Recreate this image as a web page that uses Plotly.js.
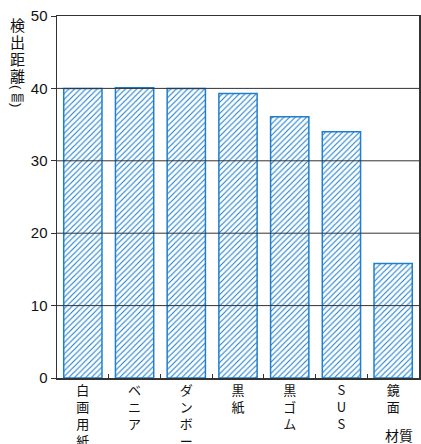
<!DOCTYPE html>
<html>
<head>
<meta charset="utf-8">
<script src="https://cdn.plot.ly/plotly-3.0.1.min.js"></script>
<style>html,body{margin:0;padding:0;background:#fff;}#chart{width:421px;height:444px;}</style>
</head>
<body>
<div id="chart"></div>
<script>
const categories = ["白画用紙", "ベニア", "ダンボール", "黒紙", "黒ゴム", "SUS", "鏡面"];
const distances = [40.0, 40.1, 40.0, 39.3, 36.1, 34.0, 15.8];
const yTicks = [0, 10, 20, 30, 40, 50];
const yTitleMain = "検出距離";
const yTitleUnit = ["(", "㎜", ")"];
const xTitle = "材質";

const verticalText = s => Array.from(s).join("<br>");
const blue = "#1f7fcf";

const trace = {
  type: "bar",
  x: categories,
  y: distances,
  width: 0.74,
  marker: {
    color: "#ffffff",
    line: {color: blue, width: 1.5},
    pattern: {shape: "/", fgcolor: blue, bgcolor: "#ffffff", size: 4, solidity: 0.28}
  },
  hoverinfo: "none"
};

const gridShapes = yTicks.filter(v => v > 0 && v < 50).map(v => ({
  type: "line", xref: "paper", x0: 0, x1: 1, yref: "y", y0: v, y1: v,
  line: {color: "#333333", width: 1}, layer: "above"
}));

const titleFont = {family: "Noto Sans CJK JP", size: 15, color: "#111111"};
const yTitleAnnotations = [];
Array.from(yTitleMain).forEach((ch, i) => {
  yTitleAnnotations.push({
    text: ch, xref: "paper", yref: "paper", x: 0, y: 1,
    xshift: -40, yshift: -8 - i * 17.3,
    xanchor: "center", yanchor: "middle", showarrow: false, font: titleFont
  });
});
const unitShifts = [-71, -79.5, -89];
yTitleUnit.forEach((ch, i) => {
  yTitleAnnotations.push({
    text: ch, xref: "paper", yref: "paper", x: 0, y: 1,
    xshift: -40, yshift: unitShifts[i],
    textangle: i === 1 ? 0 : 90,
    xanchor: "center", yanchor: "middle", showarrow: false,
    font: i === 1
      ? {family: "Noto Sans CJK JP", size: 13, color: "#111111"}
      : {family: "Liberation Sans, Arial, sans-serif", size: 13, color: "#111111"}
  });
});

const layout = {
  width: 421, height: 444,
  margin: {l: 57, r: 2, t: 16, b: 66},
  paper_bgcolor: "#ffffff", plot_bgcolor: "#ffffff",
  showlegend: false,
  font: {family: "Liberation Sans, Arial, sans-serif", color: "#111111"},
  xaxis: {
    type: "category",
    tickmode: "array",
    tickvals: categories,
    ticktext: categories.map(verticalText),
    tickangle: 0,
    tickson: "boundaries",
    ticks: "inside", ticklen: 4, tickcolor: "#333333",
    tickfont: {family: "Noto Sans CJK JP", size: 13, color: "#111111"},
    showgrid: false, zeroline: false,
    showline: true, linecolor: "#333333", linewidth: 1.5, mirror: true,
    range: [-0.5, 6.5]
  },
  yaxis: {
    range: [0, 50],
    tickmode: "array", tickvals: yTicks,
    ticks: "outside", ticklen: 5, tickcolor: "#333333",
    tickfont: {family: "Liberation Sans, Arial, sans-serif", size: 15, color: "#111111"},
    showgrid: false, zeroline: false,
    showline: true, linecolor: "#333333", linewidth: 1.5, mirror: true
  },
  shapes: gridShapes,
  annotations: yTitleAnnotations.concat([
    {
      text: xTitle,
      xref: "paper", yref: "paper", x: 1.0, y: 0,
      xshift: -4, yshift: -57,
      xanchor: "right", yanchor: "middle", showarrow: false,
      font: {family: "Noto Sans CJK JP", size: 14, color: "#111111"}
    }
  ])
};

Plotly.newPlot("chart", [trace], layout, {staticPlot: true, displayModeBar: false});
</script>
</body>
</html>
